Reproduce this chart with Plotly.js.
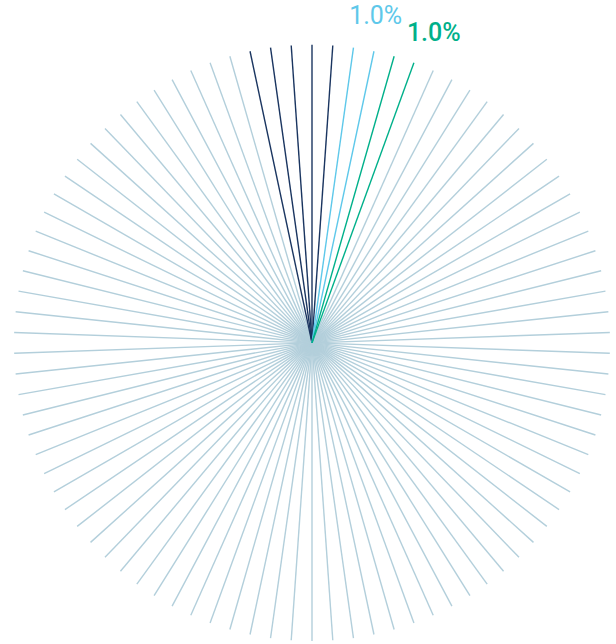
<!DOCTYPE html>
<html>
<head>
<meta charset="utf-8">
<script src="https://cdn.plot.ly/plotly-3.0.1.min.js"></script>
<style>html,body{margin:0;padding:0;background:#fff}#chart{width:616px;height:644px}</style>
</head>
<body>
<div id="chart"></div>
<script>
// Groups of rays (each ray = one unit), in clockwise order starting at the first navy ray
const groupNames = ['Navy', 'Light blue', 'Green', 'Other'];
const groupCounts = [5, 2, 2, 81];
const groupLabels = ['', '1.0%', '1.0%', ''];
const groupColors = ['#1a3560', '#5ec8ea', '#00b08a', '#b3cfdb'];
const startAngle = -12;   // degrees, angle of first ray (0 = top, clockwise)
const stepAngle = 4;      // degrees between rays
const rayLength = 1;

const rad = d => d * Math.PI / 180;
const traces = [];
let idx = 0;
const groupRays = groupCounts.map(n => {
  const arr = [];
  for (let i = 0; i < n; i++) { arr.push(startAngle + stepAngle * idx); idx++; }
  return arr;
});
// draw "Other" first so colored rays sit on top
const order = [3, 0, 1, 2];
order.forEach(g => {
  const x = [], y = [];
  groupRays[g].forEach(a => {
    x.push(0, rayLength * Math.sin(rad(a)), null);
    y.push(0, rayLength * Math.cos(rad(a)), null);
  });
  traces.push({
    type: 'scatter', mode: 'lines', x: x, y: y,
    line: {color: groupColors[g], width: 1.4}, hoverinfo: 'skip', name: groupNames[g]
  });
});
// labels just beyond the ends of their rays
const labelR = 1.11;
const labelShift = [0, -0.9, 1.6, 0];
const labelWeight = [400, 400, 500, 400];
[1, 2].forEach(g => {
  const rays = groupRays[g];
  const a = rays[rays.length - 1] + labelShift[g];
  traces.push({
    type: 'scatter', mode: 'text', x: [labelR * Math.sin(rad(a))], y: [labelR * Math.cos(rad(a))],
    text: [groupLabels[g]], cliponaxis: false, textposition: 'middle center',
    textfont: {family: 'Roboto', size: 25, color: groupColors[g], weight: labelWeight[g]},
    hoverinfo: 'skip'
  });
});

const layout = {
  width: 616, height: 644,
  margin: {l: 14, r: 6, t: 3.28, b: 3},
  paper_bgcolor: '#fff', plot_bgcolor: '#fff',
  showlegend: false,
  xaxis: {visible: false, showgrid: false, zeroline: false, range: [-1, 1], fixedrange: true},
  yaxis: {visible: false, showgrid: false, zeroline: false, range: [-1, 1.14], fixedrange: true}
};
Plotly.newPlot('chart', traces, layout, {displayModeBar: false, staticPlot: true});
</script>
</body>
</html>
